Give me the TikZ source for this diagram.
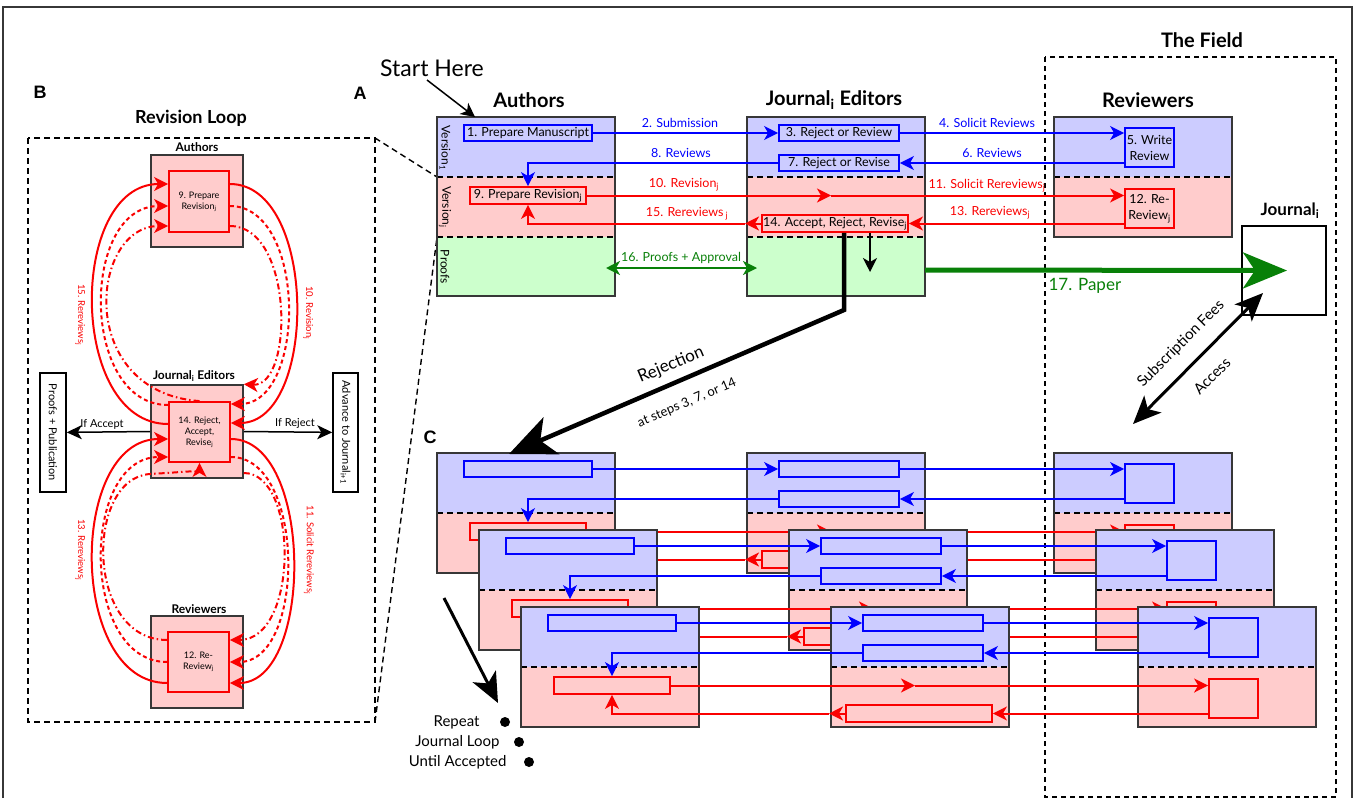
\documentclass[tikz,border=0pt]{standalone}
\usepackage{fontspec}
\setmainfont{Lato}
\newfontfamily\panelfont{Liberation Sans}
\usetikzlibrary{arrows.meta}

\definecolor{paleblue}{RGB}{204,204,255}
\definecolor{palered}{RGB}{255,204,204}
\definecolor{palegreen}{RGB}{204,255,204}
\definecolor{papergreen}{RGB}{8,128,8}
\definecolor{edgegray}{RGB}{55,55,55}
\definecolor{stepred}{RGB}{250,0,0}

\tikzset{
  stage/.style={draw=edgegray,line width=1.6pt},
  divider/.style={black,line width=1.4pt,dash pattern=on 6pt off 4pt},
  bluestep/.style={draw=blue,line width=1.8pt,inner sep=0pt,fill=paleblue,font=\fontsize{12.5}{16}\selectfont},
  redstep/.style={draw=stepred,line width=1.8pt,inner sep=0pt,fill=palered,font=\fontsize{12.5}{16}\selectfont},
  blueline/.style={blue,line width=1.8pt},
  redline/.style={stepred,line width=2pt},
  headed/.style={-{Stealth[length=14pt,width=14pt,inset=4pt]}},
  bluelab/.style={blue,font=\fontsize{12.5}{13}\selectfont},
  redlab/.style={stepred,font=\fontsize{12.5}{13}\selectfont},
  title/.style={font=\bfseries\fontsize{20}{22}\selectfont},
  smalltitle/.style={font=\bfseries\fontsize{12}{13}\selectfont},
  panel/.style={font=\panelfont\bfseries\fontsize{18}{20}\selectfont},
  looplab/.style={stepred,rotate=-90,font=\fontsize{9.5}{10}\selectfont},
  loopbox/.style={draw=stepred,line width=1.8pt,fill=palered,inner sep=0pt,align=center,font=\fontsize{9}{11}\selectfont},
  dashloop/.style={dash pattern=on 4pt off 3pt},
  dotloop/.style={dash pattern=on 6pt off 3pt on 1.5pt off 3pt},
}

\begin{document}
\begin{tikzpicture}[x=1pt,y=-1pt]
\useasboundingbox (0,0) rectangle (1356,798);
\draw[edgegray,line width=1.2pt] (3,798) -- (3,7) -- (1352,7) -- (1352,798);

% ---------- panel B: revision loop
\node[panel] (labB) at (40,92) {B};
\node[font=\bfseries\fontsize{18}{20}\selectfont] (loopttl) at (191,118) {Revision Loop};
\draw[divider] (28,138) rectangle (375,722);
\draw[divider] (375,138) -- (437,177);
\draw[divider] (375,722) -- (437,237);

\node[smalltitle] (authB) at (197,147) {Authors};
\node[smalltitle] (edtB) at (194,376) {Journal\textsubscript{i} Editors};
\node[smalltitle] (revB) at (199,609) {Reviewers};
\node[stage,fill=palered,minimum width=92pt,minimum height=92pt,inner sep=0pt] (auB) at (197,201) {};
\node[stage,fill=palered,minimum width=92pt,minimum height=93pt,inner sep=0pt] (edB) at (197,431.5) {};
\node[stage,fill=palered,minimum width=92pt,minimum height=92pt,inner sep=0pt] (rvB) at (197,662) {};
\node[loopbox,minimum width=60pt,minimum height=61pt] (aB) at (199,201.5) {9. Prepare\\Revision\textsubscript{j}};
\node[loopbox,minimum width=61pt,minimum height=60pt] (eB) at (199.5,432) {14. Reject,\\Accept,\\Revise\textsubscript{j}};
\node[loopbox,minimum width=61pt,minimum height=60pt] (rB) at (198.5,662) {12. Re-\\Review\textsubscript{j}};

\node[draw,line width=1.5pt,rotate=-90,minimum width=119pt,minimum height=26pt,inner sep=0pt,font=\fontsize{11}{12}\selectfont] (pub) at (53,432.5) {Proofs + Publication};
\node[draw,line width=1.5pt,rotate=-90,minimum width=119pt,minimum height=25pt,inner sep=0pt,font=\fontsize{11}{12}\selectfont] (adv) at (345.5,432.5) {Advance to Journal\textsubscript{i+1}};
\draw[line width=1.5pt,-{Stealth[length=15pt,width=14pt,inset=4pt]}] (edB.west) -- (pub);
\draw[line width=1.5pt,-{Stealth[length=15pt,width=14pt,inset=4pt]}] (edB.east) -- (adv);
\node[font=\fontsize{11}{12}\selectfont] (ifacc) at (102,424) {If Accept};
\node[font=\fontsize{11}{12}\selectfont] (ifrej) at (295,423) {If Reject};

% authors -> editors
\draw[redline,headed] ([yshift=17.5pt]aB.east) .. controls (318,184) and (318,423) .. ([yshift=9pt]eB.east);
\draw[redline,headed,dashloop] ([yshift=-4.5pt]aB.east) .. controls (307,206) and (307,404) .. ([yshift=28pt]eB.east);
\draw[redline,headed,dotloop] ([yshift=-24.5pt]aB.east) .. controls (294,226) and (294,387) .. (edB.north east);
% editors -> authors
\draw[redline,headed] ([yshift=8pt]eB.west) .. controls (68,424) and (68,184) .. ([yshift=17.5pt]aB.west);
\draw[redline,headed,dashloop] ([yshift=27pt]eB.west) .. controls (80,405) and (80,206) .. ([yshift=-4.5pt]aB.west);
\draw[redline,headed,dotloop] (eB.north) .. controls (75,392) and (90,226) .. ([yshift=-24.5pt]aB.west);
% editors -> reviewers
\draw[redline,headed] ([yshift=-7pt]eB.east) .. controls (314,439) and (314,683) .. ([yshift=-21pt]rB.east);
\draw[redline,headed,dashloop] ([yshift=-25pt]eB.east) .. controls (306,457) and (306,662) .. (rB.east);
\draw[redline,headed,dotloop] ([yshift=-41.5pt]edB.east) .. controls (299,473) and (299,640) .. ([yshift=22pt]rB.east);
% reviewers -> editors
\draw[redline,headed] ([yshift=-21pt]rB.west) .. controls (68,683) and (68,439) .. ([yshift=-7pt]eB.west);
\draw[redline,headed,dashloop] (rB.west) .. controls (80,662) and (80,457) .. ([yshift=-25pt]eB.west);
\draw[redline,headed,dotloop] ([yshift=22pt]rB.west) .. controls (85,640) and (85,478) .. (150,474) .. controls (185,472) and (199.5,470) .. (eB.south);

\node[looplab] (l15B) at (80,315) {15. Rereviews\textsubscript{j}};
\node[looplab] (l10B) at (308,313) {10. Revision\textsubscript{j}};
\node[looplab] (l13B) at (80,550) {13. Rereviews\textsubscript{j}};
\node[looplab] (l11B) at (309,550) {11. Solicit Rereviews\textsubscript{j}};

% ---------- panel A
\node[panel] (labA) at (360,93) {A};
\node[font=\fontsize{23}{25}\selectfont] (start) at (432,68) {Start Here};
\node[title] (authA) at (529,100) {Authors};
\node[title] (edtA) at (834,100) {Journal\textsubscript{i} Editors};
\node[title] (revA) at (1148,100) {Reviewers};

\draw[black,line width=1.3pt,dash pattern=on 5pt off 4pt] (1045,57) rectangle (1336,797);
\node[title] (field) at (1202,40) {The Field};

\fill[paleblue] (437,117) rectangle (615,177);
\fill[palered] (437,177) rectangle (615,237);
\fill[palegreen] (437,237) rectangle (615,296);
\draw[divider] (437,177) -- (615,177);
\draw[divider] (437,237) -- (615,237);
\draw[stage] (437,117) rectangle (615,296);
\fill[paleblue] (747,117) rectangle (925,177);
\fill[palered] (747,177) rectangle (925,237);
\fill[palegreen] (747,237) rectangle (925,296);
\draw[divider] (747,177) -- (925,177);
\draw[divider] (747,237) -- (925,237);
\draw[stage] (747,117) rectangle (925,296);
\fill[paleblue] (1054,117) rectangle (1232,177);
\fill[palered] (1054,177) rectangle (1232,237);
\draw[divider] (1054,177) -- (1232,177);
\draw[stage] (1054,117) rectangle (1232,237);

\coordinate (sh) at (427,80);
\draw[line width=1.5pt,headed] (sh) -- (475,117);

\node[rotate=-90,font=\fontsize{12}{13}\selectfont] (ver1) at (445,148) {Version\textsubscript{1}};
\node[rotate=-90,font=\fontsize{12}{13}\selectfont] (verj) at (445,207) {Version\textsubscript{j}};
\node[rotate=-90,font=\fontsize{12}{13}\selectfont] (prf) at (445,267) {Proofs};

\node[bluestep,minimum width=128pt,minimum height=16pt] (s1) at (528,133) {1. Prepare Manuscript};
\node[bluestep,minimum width=120pt,minimum height=16pt] (s3) at (839,133) {3. Reject or Review};
\node[bluestep,minimum width=120pt,minimum height=16pt] (s7) at (839,163) {7. Reject or Revise};
\node[bluestep,minimum width=49pt,minimum height=39pt,align=center] (s5) at (1149.5,147.5) {5. Write\\Review};
\node[redstep,minimum width=116pt,minimum height=17pt] (s9) at (528,195.5) {9. Prepare Revision\textsubscript{j}};
\node[redstep,minimum width=146pt,minimum height=17pt] (s14) at (835,223.5) {14. Accept, Reject, Revise\textsubscript{j}};
\node[redstep,minimum width=49pt,minimum height=39pt,align=center] (s12) at (1149.5,208.5) {12. Re-\\Review\textsubscript{j}};

\coordinate (m10) at (831,195.5);
\coordinate (m15) at (745,223.5);
\draw[blueline,headed] (s1.east) -- (s3.west);
\draw[blueline,headed] (s3.east) -- (s3.east -| s5.west);
\draw[blueline,headed] (s7.east -| s5.west) -- (s7.east);
\draw[blueline,headed] (s7.west) -| (s9.north);
\draw[redline,headed] (s9.east) -- (m10);
\draw[redline,headed] (m10) -- (m10 -| s12.west);
\draw[redline,headed] (s14.east -| s12.west) -- (s14.east);
\draw[redline,headed] (s14.west) -- (m15);
\draw[redline,headed] (m15) -| (s9.south);

\node[bluelab] (l2) at (680,123) {2. Submission};
\node[bluelab] (l8) at (681,153) {8. Reviews};
\node[redlab] (l10) at (684,185) {10. Revision\textsubscript{j}};
\node[redlab] (l15) at (687,214) {15. Rereviews\,\textsubscript{j}};
\node[bluelab] (l4) at (987,123) {4. Solicit Reviews};
\node[bluelab] (l6) at (992,153) {6. Reviews};
\node[redlab] (l11) at (987,186) {11. Solicit Rereviews\textsubscript{j}};
\node[redlab] (l13) at (990,213) {13. Rereviews\textsubscript{j}};

\coordinate (p16a) at (606,268);
\coordinate (p16b) at (757,268);
\draw[papergreen,line width=1.8pt,{Stealth[length=14pt,width=14pt,inset=4pt]}-{Stealth[length=14pt,width=14pt,inset=4pt]}] (p16a) -- (p16b);
\node[text=papergreen,font=\fontsize{12.5}{13}\selectfont] (l16) at (681,258) {16. Proofs + Approval};

\coordinate (d14) at (870,272);
\draw[line width=1.5pt,headed] (s14.south -| d14) -- (d14);

\node[draw,line width=1.5pt,minimum width=84pt,minimum height=89pt,inner sep=0pt] (jour) at (1284,270.5) {};
\node[font=\bfseries\fontsize{17}{19}\selectfont] (jourlab) at (1290,211) {Journal\textsubscript{i}};
\coordinate (ed17) at (925,270);
\draw[papergreen,line width=5pt,-{Stealth[length=44pt,width=36pt,inset=12pt]}] (ed17) -- ([xshift=3pt]jour.center);
\node[anchor=west,text=papergreen,font=\fontsize{17}{19}\selectfont] (l17) at (1045,286) {17. Paper};

\coordinate (subs) at (1133,424);
\coordinate (jin) at (1263,293);
\draw[line width=3pt,{Stealth[length=28pt,width=24pt,inset=7pt]}-{Stealth[length=28pt,width=24pt,inset=7pt]}] (subs) -- (jin);
\node[rotate=45,font=\fontsize{15}{16}\selectfont] (fees) at (1181,344) {Subscription Fees};
\node[rotate=45,font=\fontsize{15}{16}\selectfont] (acc) at (1212,376) {Access};

% ---------- panel C
\node[panel] (labC) at (430,437) {C};
\foreach \k in {0,1,2}{
\begin{scope}[shift={(42*\k,336+77*\k)}]
\fill[paleblue] (437,117) rectangle (615,177);
\fill[palered] (437,177) rectangle (615,237);
\draw[divider] (437,177) -- (615,177);
\draw[stage] (437,117) rectangle (615,237);
\fill[paleblue] (747,117) rectangle (925,177);
\fill[palered] (747,177) rectangle (925,237);
\draw[divider] (747,177) -- (925,177);
\draw[stage] (747,117) rectangle (925,237);
\fill[paleblue] (1054,117) rectangle (1232,177);
\fill[palered] (1054,177) rectangle (1232,237);
\draw[divider] (1054,177) -- (1232,177);
\draw[stage] (1054,117) rectangle (1232,237);
\node[bluestep,minimum width=128pt,minimum height=16pt] (c1\k) at (528,133) {};
\node[bluestep,minimum width=120pt,minimum height=16pt] (c3\k) at (839,133) {};
\node[bluestep,minimum width=120pt,minimum height=16pt] (c7\k) at (839,163) {};
\node[bluestep,minimum width=49pt,minimum height=39pt] (c5\k) at (1149.5,147.5) {};
\node[redstep,minimum width=116pt,minimum height=17pt] (c9\k) at (528,195.5) {};
\node[redstep,minimum width=146pt,minimum height=17pt] (c14\k) at (835,223.5) {};
\node[redstep,minimum width=49pt,minimum height=39pt] (c12\k) at (1149.5,208.5) {};
\coordinate (cm10\k) at (831,195.5);
\coordinate (cm15\k) at (745,223.5);
\draw[blueline,headed] (c1\k.east) -- (c3\k.west);
\draw[blueline,headed] (c3\k.east) -- (c3\k.east -| c5\k.west);
\draw[blueline,headed] (c7\k.east -| c5\k.west) -- (c7\k.east);
\draw[blueline,headed] (c7\k.west) -| (c9\k.north);
\draw[redline,headed] (c9\k.east) -- (cm10\k);
\draw[redline,headed] (cm10\k) -- (cm10\k -| c12\k.west);
\draw[redline,headed] (c14\k.east -| c12\k.west) -- (c14\k.east);
\draw[redline,headed] (c14\k.west) -- (cm15\k);
\draw[redline,headed] (cm15\k) -| (c9\k.south);
\end{scope}
}

% rejection
\coordinate (bend) at (844,310);
\coordinate (hit) at (509,454);
\draw[line width=4.5pt,-{Stealth[length=46pt,width=40pt,inset=12pt]}] (s14.south -| bend) -- (bend) -- (hit);
\node[rotate=23,font=\fontsize{17}{18}\selectfont] (rej) at (671,365) {Rejection};
\node[rotate=23,font=\fontsize{13}{14}\selectfont] (rejsteps) at (687,403) {at steps 3, 7, or 14};

% repeat
\coordinate (rpa) at (444,598);
\coordinate (rpb) at (498,703);
\draw[line width=3pt,-{Stealth[length=30pt,width=26pt,inset=8pt]}] (rpa) -- (rpb);
\node[anchor=east,font=\fontsize{15}{16}\selectfont] (rep1) at (483,722) {Repeat};
\node[anchor=east,font=\fontsize{15}{16}\selectfont] (rep2) at (503,742) {Journal Loop};
\node[anchor=east,font=\fontsize{15}{16}\selectfont] (rep3) at (510,762) {Until Accepted};
\node[circle,fill,inner sep=0pt,minimum size=10pt] (dot1) at (505,722) {};
\node[circle,fill,inner sep=0pt,minimum size=10pt] (dot2) at (519,742) {};
\node[circle,fill,inner sep=0pt,minimum size=10pt] (dot3) at (529,762) {};
\end{tikzpicture}
\end{document}
